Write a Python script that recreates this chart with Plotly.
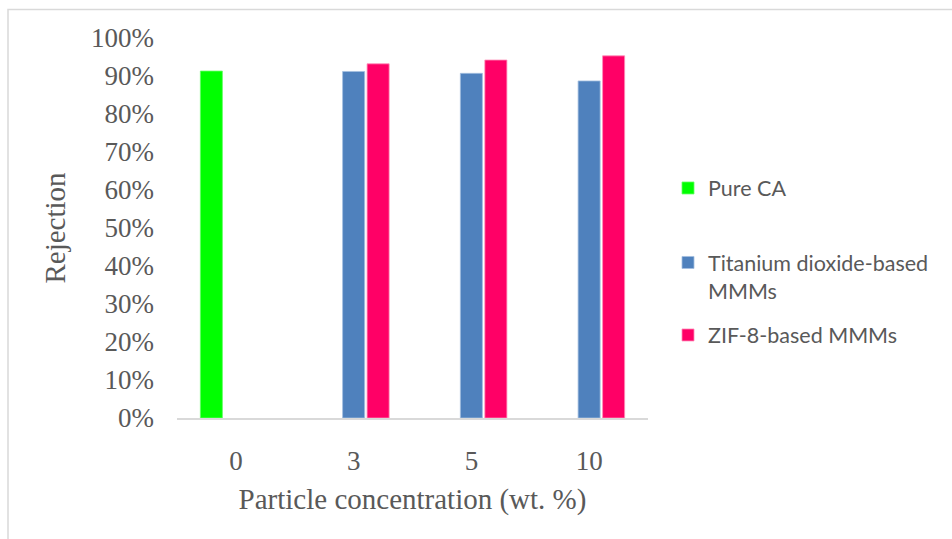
import plotly.graph_objects as go

categories = ["0", "3", "5", "10"]
pure_ca = [0.913, None, None, None]
tio2 = [None, 0.912, 0.907, 0.887]
zif8 = [None, 0.932, 0.942, 0.953]
y_ticks = [i / 10 for i in range(11)]

W, H = 952, 539
L, R, T, B = 177, 304, 38, 121
PW, PH = W - L - R, H - T - B

def px(x):
    return (x - L) / PW

def py(y):
    return (H - B - y) / PH

serif = "Liberation Serif, Times New Roman, serif"
sans = "Lato, Calibri, sans-serif"
gray = "#595959"

fig = go.Figure()
fig.add_trace(go.Bar(x=categories, y=pure_ca, name="Pure CA",
                     marker=dict(color="#00FF00", line=dict(color="#66ff66", width=0.8)),
                     legend="legend"))
fig.add_trace(go.Bar(x=categories, y=tio2, name="Titanium dioxide-based<br>MMMs",
                     marker=dict(color="#4F81BD", line=dict(color="#a3bfe0", width=0.8)),
                     legend="legend2"))
fig.add_trace(go.Bar(x=categories, y=zif8, name="ZIF-8-based MMMs",
                     marker=dict(color="#FF0066", line=dict(color="#ff8cb8", width=0.8)),
                     legend="legend3"))

leg_common = dict(font=dict(family=sans, size=21.5, color=gray), bgcolor="rgba(0,0,0,0)",
                  xanchor="left", x=px(668), valign="top")

fig.update_layout(
    width=W, height=H,
    margin=dict(l=L, r=R, t=T, b=B),
    paper_bgcolor="white", plot_bgcolor="white",
    barmode="group", bargap=0.376, bargroupgap=0.1,
    showlegend=True,
    legend=dict(**leg_common, y=py(188), yanchor="middle"),
    legend2=dict(**leg_common, y=py(262 - 20), yanchor="top"),
    legend3=dict(**leg_common, y=py(335), yanchor="middle"),
    xaxis=dict(type="category", categoryorder="array", categoryarray=categories,
               showgrid=False, showline=True, linecolor="#d9d9d9", linewidth=1.5,
               ticks="", tickfont=dict(family=serif, size=27, color=gray),
               ticklabelstandoff=18,
               title=dict(text="Particle concentration (wt. %)", standoff=14,
                          font=dict(family=serif, size=29, color=gray)),
               automargin=False),
    yaxis=dict(range=[0, 1], tickvals=y_ticks, tickformat=".0%",
               showgrid=False, showline=False, zeroline=False, ticks="",
               tickfont=dict(family=serif, size=27, color=gray),
               ticklabelstandoff=22,
               title=dict(text="Rejection", standoff=16,
                          font=dict(family=serif, size=29, color=gray)),
               automargin=False),
    shapes=[dict(type="rect", xref="paper", yref="paper",
                 x0=px(8), x1=px(W + 20), y0=py(H + 20), y1=py(9.5),
                 line=dict(color="#d9d9d9", width=1.5), layer="below")],
)

fig.write_html("out.html")
